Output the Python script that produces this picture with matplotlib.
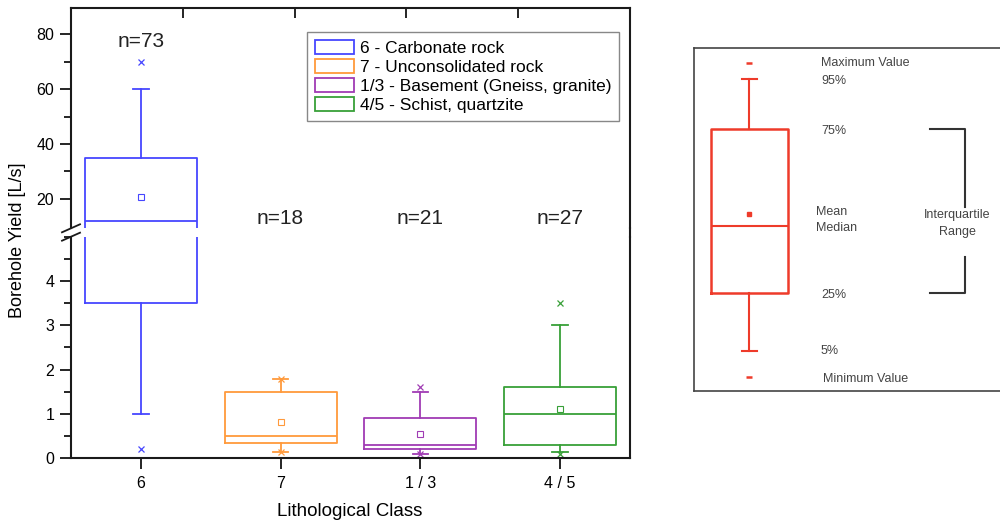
import matplotlib
matplotlib.use("Agg")
import matplotlib.pyplot as plt
from matplotlib.lines import Line2D
from matplotlib.patches import Patch
from matplotlib.ticker import MultipleLocator, FixedLocator

plt.rcParams["font.family"] = ["Liberation Sans", "DejaVu Sans"]

# --- data ---
categories = ["6", "7", "1 / 3", "4 / 5"]
legend_labels = ["6 - Carbonate rock", "7 - Unconsolidated rock",
                 "1/3 - Basement (Gneiss, granite)", "4/5 - Schist, quartzite"]
colors = ["#4646FF", "#FF9A3C", "#A03CB4", "#38A038"]
n_counts = [73, 18, 21, 27]
y_min = [0.2, 0.15, 0.1, 0.1]
p5 = [1.0, 0.15, 0.1, 0.15]
q1 = [3.5, 0.35, 0.2, 0.3]
median = [12.0, 0.5, 0.3, 1.0]
mean = [20.7, 0.81, 0.55, 1.12]
q3 = [35.0, 1.5, 0.9, 1.6]
p95 = [60.0, 1.8, 1.5, 3.0]
y_max = [70.0, 1.8, 1.6, 3.5]

# schematic box of the key (arbitrary units 0..100)
key_stats = dict(whislo=11.5, q1=28.5, med=48.0, mean=51.5, q3=76.5, whishi=91.0,
                 fliers=[4.0, 95.5])
key_labels = ["Maximum Value", "95%", "75%", "Mean", "Median", "25%", "5%", "Minimum Value"]
key_label_y = [95.5, 90.5, 75.8, 52.0, 47.5, 27.8, 11.5, 3.3]

W, H = 1000, 524
fig = plt.figure(figsize=(W / 100, H / 100), dpi=100)


def fr(x0, y_top, x1, y_bot):
    # pixel box -> figure fraction rect
    return [x0 / W, 1 - y_bot / H, (x1 - x0) / W, (y_bot - y_top) / H]


ax_hi = fig.add_axes(fr(71, 7.5, 630, 228.3))
ax_lo = fig.add_axes(fr(71, 236.7, 630, 458.3))

positions = list(range(1, len(categories) + 1))
for ax in (ax_hi, ax_lo):
    for i, c in enumerate(colors):
        st = dict(whislo=p5[i], q1=q1[i], med=median[i], mean=mean[i], q3=q3[i],
                  whishi=p95[i], fliers=[y_min[i], y_max[i]])
        ax.bxp([st], positions=[positions[i]], widths=0.8, capwidths=0.11,
               showmeans=True, showfliers=True, manage_ticks=False,
               boxprops=dict(color=c, lw=1.3),
               whiskerprops=dict(color=c, lw=1.3),
               capprops=dict(color=c, lw=1.3),
               medianprops=dict(color=c, lw=1.3),
               meanprops=dict(marker="s", markerfacecolor="none", markeredgecolor=c,
                              markersize=4, markeredgewidth=0.8),
               flierprops=dict(marker="x", markeredgecolor=c, markersize=4.5,
                               markeredgewidth=0.9))
    ax.set_xlim(0.5, 4.5)
    for s in ax.spines.values():
        s.set_linewidth(1.5)
        s.set_color("#1a1a1a")
    ax.tick_params(axis="y", which="major", direction="out", length=8, width=1.2,
                   labelsize=11.5, pad=4)
    ax.tick_params(axis="y", which="minor", direction="out", length=5, width=1.2)
    ax.tick_params(axis="y", right=False)

ax_hi.set_ylim(9.3, 89.7)
ax_hi.yaxis.set_major_locator(FixedLocator([20, 40, 60, 80]))
ax_hi.yaxis.set_minor_locator(FixedLocator([30, 50, 70]))
ax_hi.spines["bottom"].set_visible(False)
ax_hi.xaxis.set_ticks_position("top")
ax_hi.set_xticks([1.3, 2.1, 2.9, 3.7])
ax_hi.tick_params(axis="x", direction="in", length=7, width=1.2, labeltop=False,
                  labelbottom=False, bottom=False)

ax_lo.set_ylim(0, 5)
ax_lo.yaxis.set_major_locator(FixedLocator([0, 1, 2, 3, 4]))
ax_lo.yaxis.set_minor_locator(MultipleLocator(0.5))
ax_lo.spines["top"].set_visible(False)
ax_lo.set_xticks(positions)
ax_lo.set_xticklabels(categories)
ax_lo.tick_params(axis="x", direction="out", length=8, width=1.2, labelsize=11.5, pad=5,
                  top=False)

# sample sizes
for i, n in enumerate(n_counts):
    ax_hi.text(positions[i], 77.5 if i == 0 else 12.7, f"n={n}", ha="center", va="center",
               fontsize=15, color="#222222")

# right spine continues through the break, left spine gets the // marks
fig.add_artist(Line2D([630 / W, 630 / W], [1 - 228.3 / H, 1 - 236.7 / H],
                      color="#1a1a1a", lw=1.5))
for yc in (228.3, 236.7):
    fig.add_artist(Line2D([62 / W, 80 / W], [1 - (yc + 4) / H, 1 - (yc - 4) / H],
                          color="#1a1a1a", lw=1.3))

handles = [Patch(facecolor="none", edgecolor=c, lw=1.3) for c in colors]
ax_hi.legend(handles, legend_labels, loc="upper right",
             bbox_to_anchor=(619 / W, 1 - 31.7 / H), bbox_transform=fig.transFigure,
             borderaxespad=0, fontsize=12.5, frameon=True, fancybox=False,
             edgecolor="#888888", framealpha=1, handlelength=2.3, handleheight=0.9,
             handletextpad=0.3, labelspacing=0.17, borderpad=0.45)

fig.text(18 / W, 1 - 240 / H, "Borehole Yield [L/s]", rotation=90, ha="center",
         va="center", fontsize=13)
fig.text(350 / W, 1 - 512 / H, "Lithological Class", ha="center", va="center",
         fontsize=13.5)

# --- key explaining the box elements ---
red = "#EE3B2A"
ax_key = fig.add_axes(fr(694, 48, 1000, 390.7))
ax_key.set_xlim(0, 306)
ax_key.set_ylim(0, 100)
ax_key.bxp([key_stats], positions=[55], widths=77, capwidths=15, showmeans=True,
           showfliers=True, manage_ticks=False,
           boxprops=dict(color=red, lw=1.8), whiskerprops=dict(color=red, lw=1.5),
           capprops=dict(color=red, lw=1.5), medianprops=dict(color=red, lw=1.5),
           meanprops=dict(marker="s", markerfacecolor=red, markeredgecolor=red,
                          markersize=3.5),
           flierprops=dict(marker="_", markeredgecolor=red, markersize=5,
                           markeredgewidth=1.8))
for lab, yv in zip(key_labels, key_label_y):
    xt = 122 if lab in ("Mean", "Median") else (129 if lab.startswith("Min") else 127)
    ax_key.text(xt, yv, lab, ha="left", va="center", fontsize=9, color="#444444")

# interquartile bracket
bk = "#333333"
ax_key.plot([236, 271, 271], [key_stats["q3"], key_stats["q3"], 53.7], color=bk, lw=1.5)
ax_key.plot([236, 271, 271], [key_stats["q1"], key_stats["q1"], 39.1], color=bk, lw=1.5)
ax_key.text(263, 51.3, "Interquartile", ha="center", va="center", fontsize=9, color="#444444")
ax_key.text(263, 46.4, "Range", ha="center", va="center", fontsize=9, color="#444444")

ax_key.set_xticks([])
ax_key.set_yticks([])
ax_key.spines["right"].set_visible(False)
for s in ax_key.spines.values():
    s.set_color("#444444")
    s.set_linewidth(1.2)

fig.savefig("out.png", dpi=100, facecolor="white")
